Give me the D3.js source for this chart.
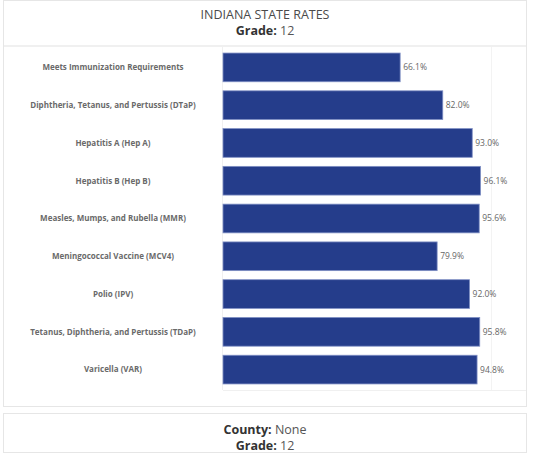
<html lang="en">
  <head>
    <meta charset="utf-8">
    <title>Indiana State Rates</title>
    <script src="https://d3js.org/d3.v7.min.js"></script>
    <style>
      body { margin: 0; background: #fff; }
    </style>
  </head>
  <body>
    <script type="text/javascript">
      var w = 533;
      var h = 457;
      var vaccines = ["Meets Immunization Requirements",
                      "Diphtheria, Tetanus, and Pertussis (DTaP)",
                      "Hepatitis A (Hep A)",
                      "Hepatitis B (Hep B)",
                      "Measles, Mumps, and Rubella (MMR)",
                      "Meningococcal Vaccine (MCV4)",
                      "Polio (IPV)",
                      "Tetanus, Diphtheria, and Pertussis (TDaP)",
                      "Varicella (VAR)"];
      var rates = [66.1, 82.0, 93.0, 96.1, 95.6, 79.9, 92.0, 95.8, 94.8];
      var gradeLabel = "12";
      var countyLabel = "None";

      var font = "'Open Sans', 'Noto Sans', sans-serif";
      var plot = {left: 223, right: 526, top: 47, bottom: 390};

      var svg = d3.select("body")
          .append("svg")
          .attr("width", w)
          .attr("height", h)
          .style("font-family", font);

      // panels
      svg.append("rect")
          .attr("x", 3.5).attr("y", 0.5)
          .attr("width", 523).attr("height", 406)
          .attr("fill", "none").attr("stroke", "#e6e6e6");
      svg.append("line")
          .attr("x1", 4).attr("x2", 526)
          .attr("y1", 46).attr("y2", 46)
          .attr("stroke", "#f0f0f0").attr("stroke-width", 2);
      svg.append("rect")
          .attr("x", 3.5).attr("y", 413.5)
          .attr("width", 523).attr("height", 39)
          .attr("fill", "none").attr("stroke", "#e6e6e6");

      // header
      svg.append("text")
          .attr("x", 265).attr("y", 19)
          .attr("text-anchor", "middle")
          .attr("font-size", 12.5)
          .attr("fill", "#4a4a4a")
          .text("INDIANA STATE RATES");
      var g1 = svg.append("text")
          .attr("x", 265).attr("y", 35)
          .attr("text-anchor", "middle")
          .attr("font-size", 12.5)
          .attr("fill", "#333");
      g1.append("tspan").attr("font-weight", "bold").text("Grade:");
      g1.append("tspan").attr("fill", "#555").text(" " + gradeLabel);

      // footer
      var c1 = svg.append("text")
          .attr("x", 265).attr("y", 434)
          .attr("text-anchor", "middle")
          .attr("font-size", 12.5)
          .attr("fill", "#333");
      c1.append("tspan").attr("font-weight", "bold").text("County:");
      c1.append("tspan").attr("fill", "#555").text(" " + countyLabel);
      var c2 = svg.append("text")
          .attr("x", 265).attr("y", 450)
          .attr("text-anchor", "middle")
          .attr("font-size", 12.5)
          .attr("fill", "#333");
      c2.append("tspan").attr("font-weight", "bold").text("Grade:");
      c2.append("tspan").attr("fill", "#555").text(" " + gradeLabel);

      var xScale = d3.scaleLinear()
          .domain([0, 100])
          .range([plot.left, 491]);
      var yScale = d3.scaleBand()
          .domain(vaccines)
          .range([plot.top, plot.bottom])
          .paddingInner(0.24)
          .paddingOuter(0.16);

      // plot frame + gridline
      svg.append("line")
          .attr("x1", plot.left - 0.5).attr("x2", plot.left - 0.5)
          .attr("y1", plot.top).attr("y2", plot.bottom)
          .attr("stroke", "#f0f0f0");
      svg.append("line")
          .attr("x1", plot.left).attr("x2", plot.right)
          .attr("y1", plot.bottom + 0.5).attr("y2", plot.bottom + 0.5)
          .attr("stroke", "#f0f0f0");
      svg.append("line")
          .attr("x1", xScale(100) + 0.5).attr("x2", xScale(100) + 0.5)
          .attr("y1", plot.top).attr("y2", plot.bottom)
          .attr("stroke", "#f3f3f3");

      var data = vaccines.map(function(v, i) { return {name: v, rate: rates[i]}; });

      svg.selectAll("rect.bar")
          .data(data)
          .enter()
          .append("rect")
          .attr("class", "bar")
          .attr("x", xScale(0))
          .attr("y", function(d) { return yScale(d.name); })
          .attr("width", function(d) { return xScale(d.rate) - xScale(0); })
          .attr("height", yScale.bandwidth())
          .attr("fill", "#253d8b")
          .attr("stroke", "#7f8fc4")
          .attr("stroke-width", 0.8);

      svg.selectAll("text.val")
          .data(data)
          .enter()
          .append("text")
          .attr("class", "val")
          .attr("x", function(d) { return xScale(d.rate) + 3; })
          .attr("y", function(d) { return yScale(d.name) + yScale.bandwidth() / 2; })
          .attr("dy", "0.35em")
          .attr("font-size", 8.5)
          .attr("fill", "#666")
          .text(function(d) { return d.rate.toFixed(1) + "%"; });

      svg.selectAll("text.cat")
          .data(data)
          .enter()
          .append("text")
          .attr("class", "cat")
          .attr("x", 113)
          .attr("y", function(d) { return yScale(d.name) + yScale.bandwidth() / 2; })
          .attr("dy", "0.35em")
          .attr("text-anchor", "middle")
          .attr("font-size", 8)
          .attr("font-weight", "bold")
          .attr("fill", "#6a6a6a")
          .text(function(d) { return d.name; });
    </script>
  </body>
</html>
